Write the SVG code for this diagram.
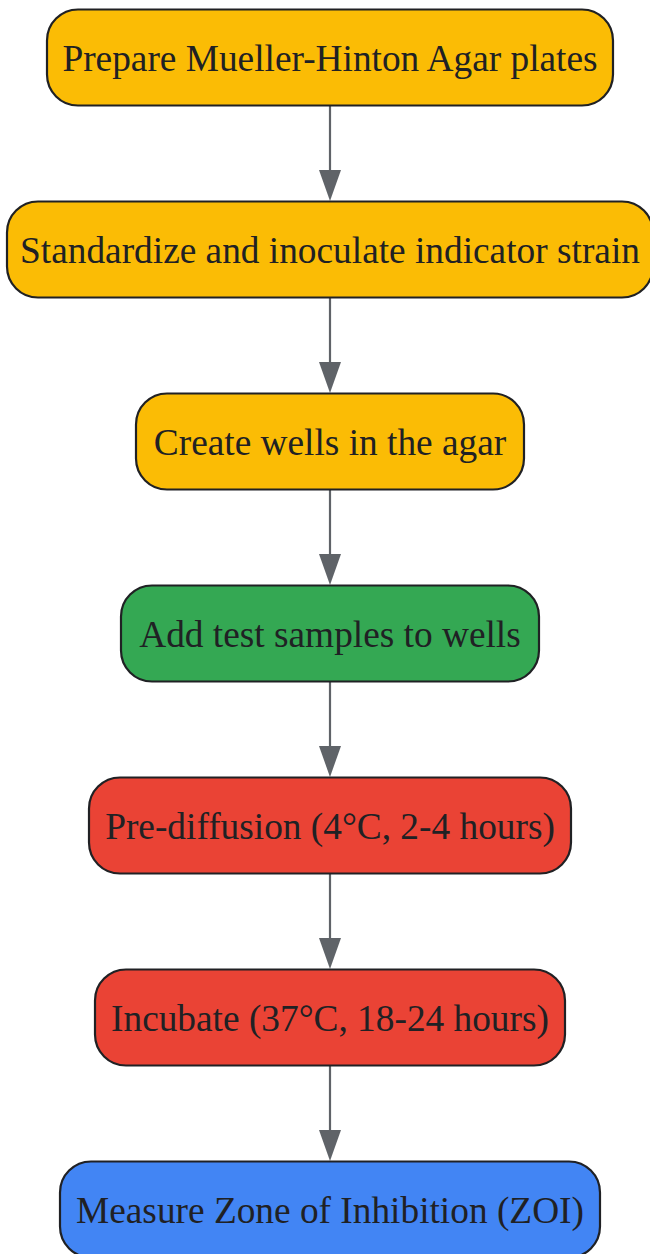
<svg xmlns="http://www.w3.org/2000/svg" width="650" height="1254" viewBox="0 0 650 1254">
<style>
.node rect{stroke:#202124;stroke-width:2.2}
.node text{font-family:"Liberation Serif","Times New Roman",serif;font-size:37.33px;fill:#202124;text-anchor:middle}
.y{fill:#FBBC05}.g{fill:#34A853}.r{fill:#EA4335}.b{fill:#4285F4}
.edge{stroke:#5F6368;stroke-width:2.2;fill:none}
.head{fill:#5F6368}
</style>
<g id="edges">
<path class="edge" d="M330,105.5 V171"/><path class="head" d="M319,170 H341 L330,201 Z"/>
<path class="edge" d="M330,297.5 V363"/><path class="head" d="M319,362 H341 L330,393 Z"/>
<path class="edge" d="M330,489.5 V555"/><path class="head" d="M319,554 H341 L330,585 Z"/>
<path class="edge" d="M330,681.5 V747"/><path class="head" d="M319,746 H341 L330,777 Z"/>
<path class="edge" d="M330,873.5 V939"/><path class="head" d="M319,938 H341 L330,969 Z"/>
<path class="edge" d="M330,1065.5 V1131"/><path class="head" d="M319,1130 H341 L330,1161 Z"/>
</g>
<g id="n1" class="node"><rect class="y" x="47" y="9.5" width="566" height="96" rx="31"/><text x="330" y="71">Prepare Mueller-Hinton Agar plates</text></g>
<g id="n2" class="node"><rect class="y" x="7" y="201.5" width="646" height="96" rx="31"/><text x="330" y="263">Standardize and inoculate indicator strain</text></g>
<g id="n3" class="node"><rect class="y" x="136" y="393.5" width="388" height="96" rx="31"/><text x="330" y="455">Create wells in the agar</text></g>
<g id="n4" class="node"><rect class="g" x="121" y="585.5" width="418" height="96" rx="31"/><text x="330" y="647">Add test samples to wells</text></g>
<g id="n5" class="node"><rect class="r" x="89" y="777.5" width="482" height="96" rx="31"/><text x="330" y="839">Pre-diffusion (4°C, 2-4 hours)</text></g>
<g id="n6" class="node"><rect class="r" x="95" y="969.5" width="470" height="96" rx="31"/><text x="330" y="1031">Incubate (37°C, 18-24 hours)</text></g>
<g id="n7" class="node"><rect class="b" x="60" y="1161.5" width="540" height="96" rx="31"/><text x="330" y="1223">Measure Zone of Inhibition (ZOI)</text></g>
</svg>
